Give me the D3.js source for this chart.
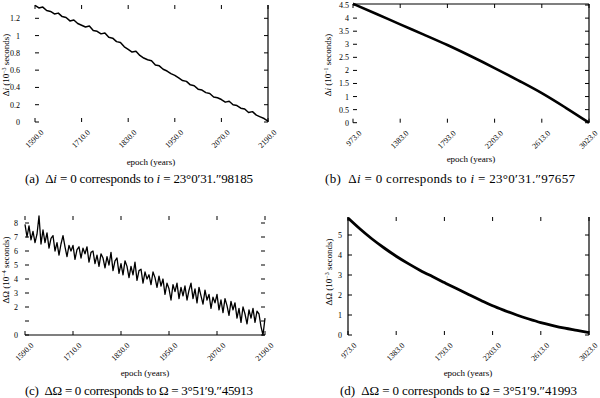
<!DOCTYPE html>
<html><head><meta charset="utf-8">
<script src="https://cdn.jsdelivr.net/npm/d3@7/dist/d3.min.js"></script>
<style>
body{margin:0;background:#fff}
svg{display:block}
</style>
</head><body>
<svg id="chart" width="600" height="398" font-family="'Liberation Serif', 'Times New Roman', 'DejaVu Serif', serif"></svg>
<script>
// ---------- Panel (a): Δi, 10^-3 seconds ----------
const yearsA = [1590,1600,1610,1620,1630,1640,1650,1660,1670,1680,1690,1700,1710,1720,1730,1740,1750,1760,1770,1780,1790,1800,1810,1820,1830,1840,1850,1860,1870,1880,1890,1900,1910,1920,1930,1940,1950,1960,1970,1980,1990,2000,2010,2020,2030,2040,2050,2060,2070,2080,2090,2100,2110,2120,2130,2140,2150,2160,2170,2180,2190];
const deltaIA = [1.35,1.32,1.33,1.29,1.28,1.25,1.26,1.22,1.21,1.17,1.18,1.14,1.12,1.10,1.11,1.06,1.05,1.02,1.03,0.98,0.97,0.93,0.92,0.87,0.84,0.81,0.82,0.77,0.74,0.72,0.71,0.66,0.65,0.61,0.59,0.56,0.54,0.51,0.48,0.47,0.43,0.42,0.38,0.37,0.34,0.33,0.29,0.28,0.26,0.23,0.24,0.20,0.19,0.16,0.15,0.11,0.12,0.08,0.06,0.04,0.01];
const xTicksA = [1590,1710,1830,1950,2070,2190];
const yTicksA = [0,0.2,0.4,0.6,0.8,1,1.2];
const yTickLabelsA = ["0","0.2","0.4","0.6","0.8","1","1.2"];

// ---------- Panel (b): Δi, 10^-1 seconds ----------
const yearsB = [973,1178,1383,1588,1793,1998,2203,2408,2613,2818,3023];
const deltaIB = [4.55,4.16,3.76,3.37,2.97,2.54,2.09,1.62,1.13,0.58,0.0];
const xTicksB = [973,1383,1793,2203,2613,3023];
const yTicksB = [0,0.5,1,1.5,2,2.5,3,3.5,4,4.5];
const yTickLabelsB = ["0","0.5","1","1.5","2","2.5","3","3.5","4","4.5"];

// ---------- Panel (c): ΔΩ, 10^-4 seconds ----------
const yearsC = [1590,1595,1600,1605,1610,1615,1620,1625,1630,1635,1640,1645,1650,1655,1660,1665,1670,1675,1680,1685,1690,1695,1700,1705,1710,1715,1720,1725,1730,1735,1740,1745,1750,1755,1760,1765,1770,1775,1780,1785,1790,1795,1800,1805,1810,1815,1820,1825,1830,1835,1840,1845,1850,1855,1860,1865,1870,1875,1880,1885,1890,1895,1900,1905,1910,1915,1920,1925,1930,1935,1940,1945,1950,1955,1960,1965,1970,1975,1980,1985,1990,1995,2000,2005,2010,2015,2020,2025,2030,2035,2040,2045,2050,2055,2060,2065,2070,2075,2080,2085,2090,2095,2100,2105,2110,2115,2120,2125,2130,2135,2140,2145,2150,2155,2160,2165,2170,2175,2180,2185,2190];
const deltaOmegaC = [7.9,7.0,7.8,6.8,7.4,6.6,7.2,8.5,6.5,7.5,6.6,7.3,6.2,6.9,7.1,6.0,6.6,5.7,6.5,7.1,6.3,5.6,6.4,6.0,6.4,5.4,6.1,6.3,5.5,6.2,5.8,6.3,5.2,5.9,6.0,5.1,5.7,4.9,5.8,5.5,4.8,5.6,5.0,5.9,4.6,5.3,5.5,4.4,5.1,4.3,5.3,4.9,4.1,4.9,4.3,5.2,3.9,4.6,4.7,3.7,4.5,4.0,4.3,3.6,4.5,4.1,3.4,4.2,3.5,4.0,2.9,3.7,3.3,2.5,3.6,3.1,3.7,2.6,3.4,2.8,3.5,2.5,3.2,3.7,2.6,3.3,2.3,3.4,2.8,2.2,3.2,2.5,2.9,1.9,2.7,2.3,2.9,1.8,2.5,1.6,2.6,2.1,1.4,2.4,1.8,2.3,1.2,1.9,0.9,2.0,1.5,0.8,1.8,1.2,1.9,0.9,1.7,1.5,0.6,0.0,1.2];
const xTicksC = [1590,1710,1830,1950,2070,2190];
const yTicksC = [0,1,2,3,4,5,6,7,8];
const yTickLabelsC = ["0","","2","3","4","5","6","7","8"];

// ---------- Panel (d): ΔΩ, 10^-3 seconds ----------
const yearsD = [973,1076,1178,1281,1383,1486,1588,1691,1793,1896,1998,2101,2203,2306,2408,2511,2613,2716,2818,2921,3023];
const deltaOmegaD = [5.85,5.30,4.80,4.35,3.94,3.57,3.23,2.92,2.62,2.32,2.03,1.74,1.46,1.22,1.00,0.80,0.62,0.47,0.34,0.23,0.12];
const xTicksD = [973,1383,1793,2203,2613,3023];
const yTicksD = [0,1,2,3,4,5];
const yTickLabelsD = ["0","1","2","3","4","5"];

const xAxisLabel = "epoch (years)";
const captions = [
  {tag:"(a)", sym:"Δ", v:"i", rest:" = 0 corresponds to ", v2:"i", val:" = 23°0′31.″98185"},
  {tag:"(b)", sym:"Δ", v:"i", rest:" = 0 corresponds to ", v2:"i", val:" = 23°0′31.″97657"},
  {tag:"(c)", sym:"ΔΩ", v:"", rest:" = 0 corresponds to ", v2:"", val:"Ω = 3°51′9.″45913"},
  {tag:"(d)", sym:"ΔΩ", v:"", rest:" = 0 corresponds to ", v2:"", val:"Ω = 3°51′9.″41993"}
];

const panels = [
  {xs:yearsA, ys:deltaIA, xt:xTicksA, yt:yTicksA, ytl:yTickLabelsA, x0:35, x1:268, y0:5, y1:122, yMax:1.354, xDom:[1590,2190],
   lw:1.5, curve:d3.curveLinear, borders:["right"], ylab:["Δ","i"," (10","−3"," seconds)"], ylx:9, yly:65, gap:15, xlx:151, xly:165, cap:captions[0], capX:25, capW:228, capY:183},
  {xs:yearsB, ys:deltaIB, xt:xTicksB, yt:yTicksB, ytl:yTickLabelsB, x0:353, x1:589, y0:4, y1:122.7, yMax:4.54, xDom:[973,3023],
   lw:2.6, curve:d3.curveMonotoneX, borders:["top","right"], ylab:["Δ","i"," (10","−1"," seconds)"], ylx:331, yly:65, gap:4, xlx:471, xly:162, cap:captions[1], capX:325, capW:250, capY:183},
  {xs:yearsC, ys:deltaOmegaC, xt:xTicksC, yt:yTicksC, ytl:yTickLabelsC, x0:25, x1:265, y0:216, y1:335, yMax:8.5, xDom:[1590,2190],
   lw:1.3, curve:d3.curveLinear, borders:["bottom"], ylab:["ΔΩ",""," (10","−4"," seconds)"], ylx:9, yly:270, gap:7, xlx:145, xly:376, cap:captions[2], capX:25, capW:228, capY:395},
  {xs:yearsD, ys:deltaOmegaD, xt:xTicksD, yt:yTicksD, ytl:yTickLabelsD, x0:348, x1:589, y0:217, y1:335, yMax:5.9, xDom:[973,3023],
   lw:2.8, curve:d3.curveMonotoneX, borders:["left","right"], ylab:["ΔΩ",""," (10","−3"," seconds)"], ylx:332, yly:272, gap:6, xlx:468, xly:376, cap:captions[3], capX:340, capW:237, capY:395}
];

const svg = d3.select("#chart");
const fmtX = d3.format(".1f");
const FONT = "'Liberation Serif', 'Times New Roman', 'DejaVu Serif', serif";

panels.forEach(p => {
  const x = d3.scaleLinear().domain(p.xDom).range([p.x0, p.x1]);
  const y = d3.scaleLinear().domain([0, p.yMax]).range([p.y1, p.y0]);
  const g = svg.append("g").attr("font-family", FONT);

  const bl = {
    top:[p.x0,p.y0,p.x1,p.y0], bottom:[p.x0,p.y1,p.x1,p.y1],
    left:[p.x0,p.y0,p.x0,p.y1], right:[p.x1,p.y0,p.x1,p.y1]
  };
  p.borders.forEach(b => {
    const c = bl[b];
    g.append("line").attr("x1",c[0]).attr("y1",c[1]).attr("x2",c[2]).attr("y2",c[3])
      .attr("stroke","#000").attr("stroke-width",1.2);
  });

  p.xt.forEach(t => {
    const px = x(t);
    g.append("line").attr("x1",px).attr("x2",px).attr("y1",p.y1).attr("y2",p.y1-4).attr("stroke","#000").attr("stroke-width",1);
    g.append("line").attr("x1",px).attr("x2",px).attr("y1",p.y0).attr("y2",p.y0+4).attr("stroke","#000").attr("stroke-width",1);
    g.append("text").attr("transform",`translate(${px+9},${p.y1+11}) rotate(-45)`)
      .attr("text-anchor","end").attr("font-size",8).attr("font-family",FONT).text(fmtX(t));
  });
  p.yt.forEach((t,i) => {
    const py = y(t);
    g.append("line").attr("x1",p.x0).attr("x2",p.x0+4).attr("y1",py).attr("y2",py).attr("stroke","#000").attr("stroke-width",1);
    g.append("line").attr("x1",p.x1).attr("x2",p.x1-4).attr("y1",py).attr("y2",py).attr("stroke","#000").attr("stroke-width",1);
    g.append("text").attr("x",p.x0-p.gap).attr("y",py+3).attr("text-anchor","end")
      .attr("font-size",8).attr("font-family",FONT).text(p.ytl[i]);
  });

  const line = d3.line().curve(p.curve).x((d,i)=>x(p.xs[i])).y(d=>y(d));
  g.append("path").datum(p.ys).attr("d",line).attr("fill","none")
    .attr("stroke","#000").attr("stroke-width",p.lw).attr("stroke-linejoin","round");

  const yl = g.append("text").attr("transform",`translate(${p.ylx},${p.yly}) rotate(-90)`)
    .attr("text-anchor","middle").attr("font-size",9).attr("font-family",FONT);
  yl.append("tspan").text(p.ylab[0]);
  if (p.ylab[1]) yl.append("tspan").attr("font-style","italic").text(p.ylab[1]);
  yl.append("tspan").text(p.ylab[2]);
  yl.append("tspan").attr("dy",-3).attr("font-size",6).text(p.ylab[3]);
  yl.append("tspan").attr("dy",3).text(p.ylab[4]);

  g.append("text").attr("x",p.xlx).attr("y",p.xly).attr("text-anchor","middle")
    .attr("font-size",9).attr("font-family",FONT).text(xAxisLabel);

  const c = p.cap;
  const ct = g.append("text").attr("x",p.capX).attr("y",p.capY).attr("font-size",13).attr("font-family",FONT)
    .attr("textLength",p.capW).attr("lengthAdjust","spacing").style("white-space","pre");
  ct.append("tspan").text(c.tag + "  " + c.sym);
  if (c.v) ct.append("tspan").attr("font-style","italic").text(c.v);
  ct.append("tspan").text(c.rest);
  if (c.v2) ct.append("tspan").attr("font-style","italic").text(c.v2);
  ct.append("tspan").text(c.val);
});
</script>
</body></html>
